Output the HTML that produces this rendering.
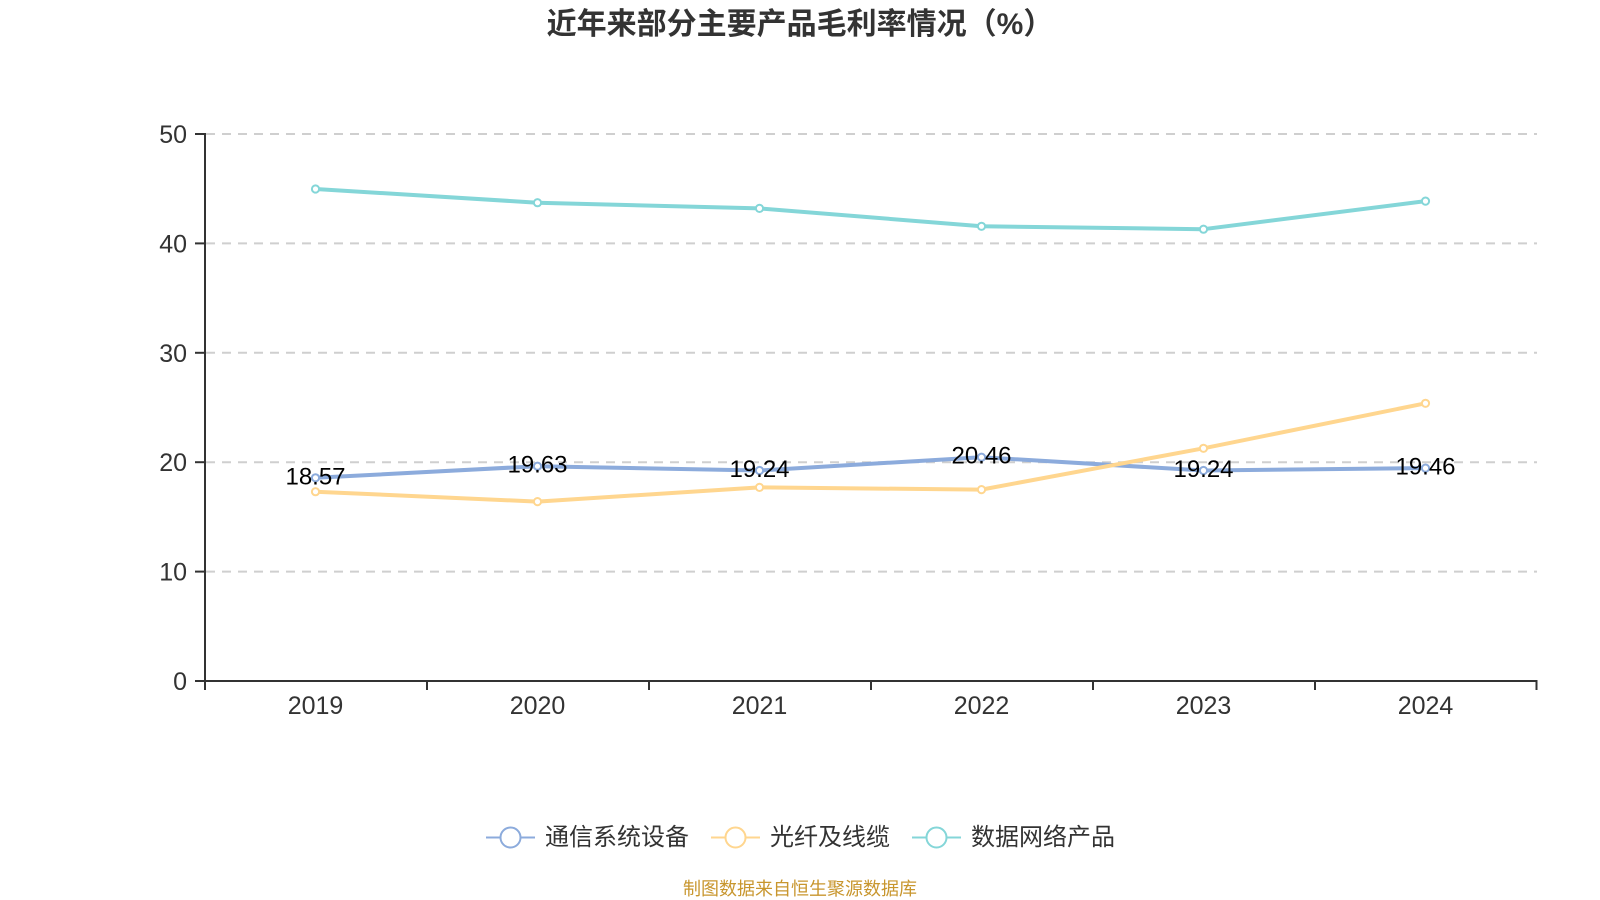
<!DOCTYPE html>
<html>
<head>
<meta charset="utf-8">
<style>
  html, body { margin:0; padding:0; background:#fff; }
  body { width:1600px; height:900px; overflow:hidden; }
  svg { display:block; }
  text { font-family: "Liberation Sans", "Noto Sans CJK SC", sans-serif; }
</style>
</head>
<body>
<svg width="1600" height="900" viewBox="0 0 1600 900" xmlns="http://www.w3.org/2000/svg">
  <rect width="1600" height="900" fill="#fff"/>

  <!-- Title -->
  <text x="800" y="34" text-anchor="middle" font-size="30" font-weight="bold" fill="#333">近年来部分主要产品毛利率情况（%）</text>

  <!-- Grid lines -->
  <g stroke="#cfcfcf" stroke-width="2" stroke-dasharray="9 7" fill="none">
    <line x1="206" y1="134" x2="1537" y2="134"/>
    <line x1="206" y1="243.4" x2="1537" y2="243.4"/>
    <line x1="206" y1="352.8" x2="1537" y2="352.8"/>
    <line x1="206" y1="462.2" x2="1537" y2="462.2"/>
    <line x1="206" y1="571.6" x2="1537" y2="571.6"/>
  </g>

  <!-- Axes -->
  <g stroke="#333" stroke-width="2" fill="none">
    <line x1="205" y1="133" x2="205" y2="690"/>
    <line x1="204" y1="681" x2="1537.5" y2="681"/>
    <line x1="195" y1="134" x2="205" y2="134"/>
    <line x1="195" y1="243.4" x2="205" y2="243.4"/>
    <line x1="195" y1="352.8" x2="205" y2="352.8"/>
    <line x1="195" y1="462.2" x2="205" y2="462.2"/>
    <line x1="195" y1="571.6" x2="205" y2="571.6"/>
    <line x1="195" y1="681" x2="205" y2="681"/>
    <line x1="427" y1="681" x2="427" y2="690"/>
    <line x1="649" y1="681" x2="649" y2="690"/>
    <line x1="871" y1="681" x2="871" y2="690"/>
    <line x1="1093" y1="681" x2="1093" y2="690"/>
    <line x1="1315" y1="681" x2="1315" y2="690"/>
    <line x1="1536.5" y1="681" x2="1536.5" y2="690"/>
  </g>

  <!-- y labels -->
  <g font-size="25" fill="#333" text-anchor="end">
    <text x="187" y="143">50</text>
    <text x="187" y="252.4">40</text>
    <text x="187" y="361.8">30</text>
    <text x="187" y="471.2">20</text>
    <text x="187" y="580.6">10</text>
    <text x="187" y="690">0</text>
  </g>

  <!-- x labels -->
  <g font-size="25" fill="#333" text-anchor="middle">
    <text x="315.5" y="714">2019</text>
    <text x="537.5" y="714">2020</text>
    <text x="759.5" y="714">2021</text>
    <text x="981.5" y="714">2022</text>
    <text x="1203.5" y="714">2023</text>
    <text x="1425.5" y="714">2024</text>
  </g>

  <!-- Series -->
  <polyline fill="none" stroke="#8cabdc" stroke-width="4" stroke-linejoin="round"
    points="315.5,477.8 537.5,466.2 759.5,470.5 981.5,457.2 1203.5,470.5 1425.5,468.1"/>
  <polyline fill="none" stroke="#ffd68f" stroke-width="4" stroke-linejoin="round"
    points="315.5,491.7 537.5,501.6 759.5,487.4 981.5,489.6 1203.5,448.3 1425.5,403.3"/>
  <polyline fill="none" stroke="#84d6d8" stroke-width="4" stroke-linejoin="round"
    points="315.5,189 537.5,202.7 759.5,208.4 981.5,226.3 1203.5,229.2 1425.5,201.1"/>

  <!-- Markers -->
  <g fill="#fff" stroke="#8cabdc" stroke-width="2">
    <circle cx="315.5" cy="477.8" r="3.6"/>
    <circle cx="537.5" cy="466.2" r="3.6"/>
    <circle cx="759.5" cy="470.5" r="3.6"/>
    <circle cx="981.5" cy="457.2" r="3.6"/>
    <circle cx="1203.5" cy="470.5" r="3.6"/>
    <circle cx="1425.5" cy="468.1" r="3.6"/>
  </g>
  <g fill="#fff" stroke="#ffd68f" stroke-width="2">
    <circle cx="315.5" cy="491.7" r="3.6"/>
    <circle cx="537.5" cy="501.6" r="3.6"/>
    <circle cx="759.5" cy="487.4" r="3.6"/>
    <circle cx="981.5" cy="489.6" r="3.6"/>
    <circle cx="1203.5" cy="448.3" r="3.6"/>
    <circle cx="1425.5" cy="403.3" r="3.6"/>
  </g>
  <g fill="#fff" stroke="#84d6d8" stroke-width="2">
    <circle cx="315.5" cy="189" r="3.6"/>
    <circle cx="537.5" cy="202.7" r="3.6"/>
    <circle cx="759.5" cy="208.4" r="3.6"/>
    <circle cx="981.5" cy="226.3" r="3.6"/>
    <circle cx="1203.5" cy="229.2" r="3.6"/>
    <circle cx="1425.5" cy="201.1" r="3.6"/>
  </g>

  <!-- Data labels -->
  <g font-size="24" fill="#000" text-anchor="middle">
    <text x="315.5" y="484.5">18.57</text>
    <text x="537.5" y="472.5">19.63</text>
    <text x="759.5" y="477">19.24</text>
    <text x="981.5" y="463.5">20.46</text>
    <text x="1203.5" y="477">19.24</text>
    <text x="1425.5" y="474.5">19.46</text>
  </g>

  <!-- Legend -->
  <g stroke-width="2" fill="#fff">
    <line x1="486" y1="837.5" x2="535" y2="837.5" stroke="#8cabdc"/>
    <circle cx="510.5" cy="837.5" r="10" stroke="#8cabdc"/>
    <line x1="711" y1="837.5" x2="760" y2="837.5" stroke="#ffd68f"/>
    <circle cx="735.5" cy="837.5" r="10" stroke="#ffd68f"/>
    <line x1="912" y1="837.5" x2="961" y2="837.5" stroke="#84d6d8"/>
    <circle cx="936.5" cy="837.5" r="10" stroke="#84d6d8"/>
  </g>
  <g font-size="24" fill="#333">
    <text x="545" y="845">通信系统设备</text>
    <text x="770" y="845">光纤及线缆</text>
    <text x="971" y="845">数据网络产品</text>
  </g>

  <!-- Footer -->
  <text x="800" y="895" text-anchor="middle" font-size="18" fill="#c8962e">制图数据来自恒生聚源数据库</text>
</svg>
</body>
</html>
